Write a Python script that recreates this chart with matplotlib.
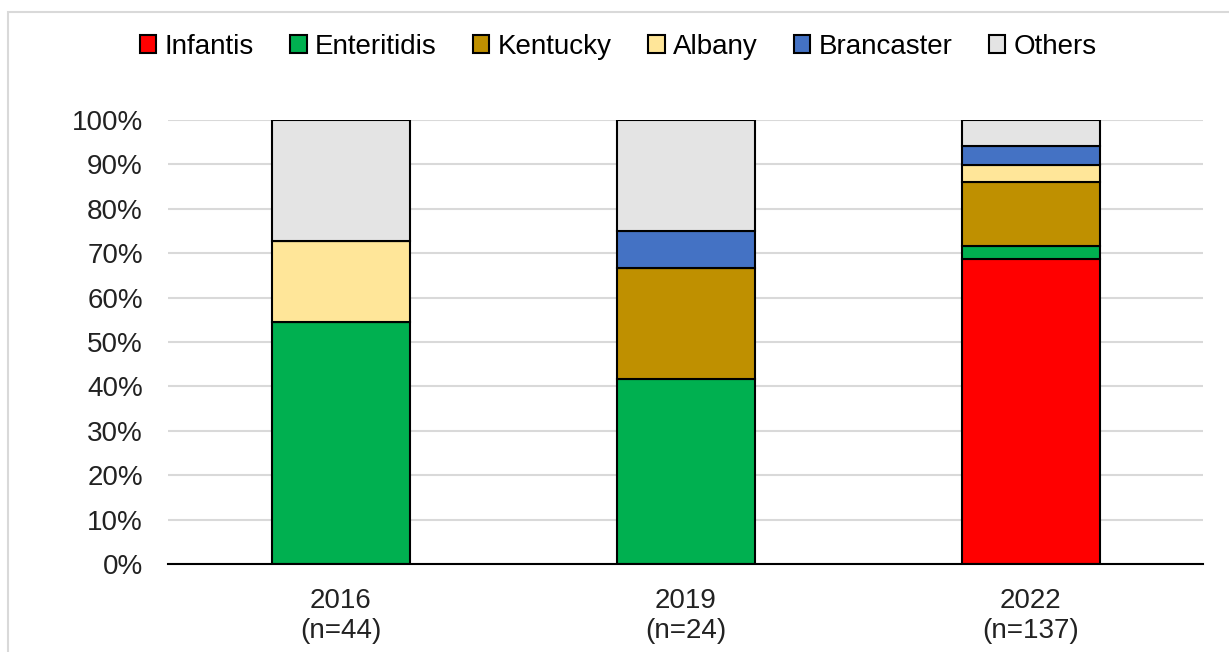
import matplotlib.pyplot as plt
import numpy as np
from matplotlib.patches import Rectangle

plt.rcParams['font.family'] = ['Liberation Sans', 'DejaVu Sans']

years = ['2016', '2019', '2022']
totals = [44, 24, 137]
serotypes = ['Infantis', 'Enteritidis', 'Kentucky', 'Albany', 'Brancaster', 'Others']
colors = ['#FF0000', '#00B050', '#BF9000', '#FFE699', '#4472C4', '#E4E4E4']

# isolate counts per serotype for each year
infantis = [0, 0, 94]
enteritidis = [24, 10, 4]
kentucky = [0, 6, 20]
albany = [8, 0, 5]
brancaster = [0, 2, 6]
others = [12, 6, 8]

counts = [infantis, enteritidis, kentucky, albany, brancaster, others]

fig = plt.figure(figsize=(12.29, 6.52), dpi=100)
ax = fig.add_axes([168 / 1229, 1 - 564 / 652, (1203 - 168) / 1229, (564 - 120) / 652])

x = np.arange(len(years))
bottom = np.zeros(len(years))
for name, vals, col in zip(serotypes, counts, colors):
    pct = np.array(vals) / np.array(totals) * 100
    ax.bar(x, pct, 0.4, bottom=bottom, color=col, edgecolor='black',
           linewidth=1.5, label=name, zorder=3)
    bottom += pct

ax.set_xlim(-0.5, 2.5)
ax.set_ylim(0, 100)
ax.set_yticks(range(0, 101, 10))
ax.set_yticklabels([f'{v}%' for v in range(0, 101, 10)])
ax.set_xticks(x)
ax.set_xticklabels([f'{y}\n(n={n})' for y, n in zip(years, totals)], linespacing=1.22)
ax.tick_params(axis='both', length=0, labelsize=20, colors='#222222')
ax.tick_params(axis='y', pad=18)
ax.tick_params(axis='x', pad=17)
ax.grid(axis='y', color='#D9D9D9', linewidth=1.5, zorder=0)
for s in ['left', 'right', 'top']:
    ax.spines[s].set_visible(False)
ax.spines['bottom'].set_linewidth(1.5)
ax.spines['bottom'].set_zorder(4)

fig.legend(loc='center', bbox_to_anchor=(0.503, 0.928), ncol=6, frameon=False,
           fontsize=20, handlelength=0.6, handleheight=0.6, handletextpad=0.3,
           columnspacing=1.3)

# outer chart frame
fig.patches.append(Rectangle((8 / 1229, -0.1), 1.2, 1 - 12 / 652 + 0.1,
                             transform=fig.transFigure, fill=False,
                             edgecolor='#D9D9D9', linewidth=1.5))

fig.savefig('out.png', dpi=100)
